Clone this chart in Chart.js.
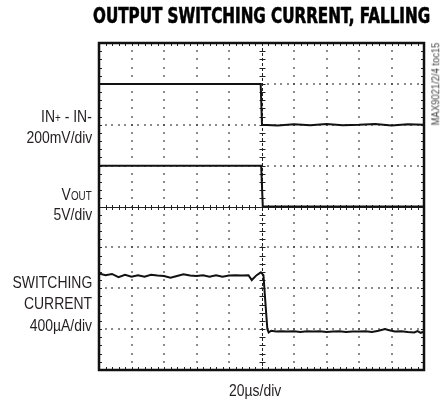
<!DOCTYPE html>
<html>
<head>
<meta charset="utf-8">
<script src="https://cdn.jsdelivr.net/npm/chart.js@4.4.1/dist/chart.umd.min.js"></script>
<style>
    body { margin: 0; background: #fff; }
    #wrap { position: relative; width: 447px; height: 404px; overflow: hidden; }
    #scope { position: absolute; left: 0; top: 0; }
    .txt {
        position: absolute;
        font-family: "Liberation Sans", Arial, sans-serif;
        color: #231f20;
        white-space: nowrap;
        line-height: 1;
    }
    /* the original uses a narrow face; squeeze Liberation Sans to match */
    .side { right: 355px; text-align: right; font-size: 17px; transform: scaleX(0.82); transform-origin: 100% 0; }
    .sub { font-size: 12px; }
    #title {
        left: 93px; top: 6px; font-size: 21px; font-weight: bold; transform-origin: 0 0;
        font-family: "DejaVu Sans Condensed", "Liberation Sans", sans-serif;
        color: #000; -webkit-text-stroke: 0.6px #000;
    }
    #timebase { left: 229px; top: 382px; font-size: 17px; transform: scaleX(0.82); transform-origin: 0 0; }
    #partno { left: 436px; top: 84px; font-size: 11.5px; color: #444; transform: translate(-50%, -50%) rotate(-90deg) scaleX(0.82); }
</style>
</head>
<body>
<div id="wrap">
    <canvas id="scope" width="447" height="404"></canvas>
    <div class="txt" id="title">OUTPUT SWITCHING CURRENT, FALLING</div>
    <div class="txt side" style="top:108px">IN<span class="sub">+</span> - IN-</div>
    <div class="txt side" style="top:129px">200mV/div</div>
    <div class="txt side" style="top:186px">V<span class="sub">OUT</span></div>
    <div class="txt side" style="top:206px">5V/div</div>
    <div class="txt side" style="top:274px">SWITCHING</div>
    <div class="txt side" style="top:295px">CURRENT</div>
    <div class="txt side" style="top:317px">400µA/div</div>
    <div class="txt" id="timebase">20µs/div</div>
    <div class="txt" id="partno">MAX9021/2/4 toc15</div>
</div>
<script>
// x in time divisions (20us/div), y in screen divisions from the bottom
const inX = [0, 4.975, 5.015, 5.5, 6.0, 6.5, 7.0, 7.5, 8.0, 8.5, 9.0, 9.5, 10];
const inY = [7.0, 7.0, 6.0, 5.98, 6.01, 5.99, 6.02, 5.99, 6.0, 6.02, 5.98, 6.01, 6.0];

const voutX = [0, 4.99, 5.04, 10];
const voutY = [5.0, 5.0, 4.0, 4.0];

const currX = [0, 0.2, 0.4, 0.6, 0.8, 1.0, 1.2, 1.4, 1.6, 1.8, 2.0, 2.2, 2.4, 2.6, 2.8,
    3.0, 3.2, 3.4, 3.6, 3.8, 4.0, 4.2, 4.4, 4.6, 4.7, 4.85, 4.98, 5.06, 5.12, 5.18, 5.22,
    5.3, 5.45, 5.6, 5.8, 6.0, 6.2, 6.4, 6.6, 6.8, 7.0, 7.2, 7.4, 7.6, 7.8, 8.0, 8.2, 8.4,
    8.6, 8.8, 8.9, 9.1, 9.3, 9.5, 9.7, 9.8, 9.9, 10];
const currY = [2.36, 2.32, 2.35, 2.27, 2.33, 2.28, 2.32, 2.28, 2.33, 2.31, 2.30, 2.26, 2.30, 2.34, 2.31,
    2.30, 2.32, 2.28, 2.32, 2.28, 2.31, 2.32, 2.31, 2.32, 2.20, 2.32, 2.39, 2.32, 1.65, 1.0, 0.92,
    0.96, 0.94, 0.95, 0.94, 0.95, 0.93, 0.95, 0.94, 0.95, 0.93, 0.94, 0.95, 0.93, 0.94, 0.94, 0.95, 0.93,
    0.96, 1.0, 0.98, 0.94, 0.95, 0.93, 0.92, 0.95, 0.91, 0.94];

const X_DIVS = 10;
const Y_DIVS = 8;

function toPoints(xs, ys) {
    return xs.map((x, i) => ({ x: x, y: ys[i] }));
}

// scope graticule: dotted division lines, ticked centre axes, ticked border
const graticule = {
    id: 'graticule',
    beforeDatasetsDraw(chart) {
        const ctx = chart.ctx;
        const xs = chart.scales.x;
        const ys = chart.scales.y;
        const a = chart.chartArea;
        const dot = (px, py) => ctx.fillRect(Math.round(px) - 0.75, Math.round(py) - 0.75, 1.5, 1.5);
        ctx.save();
        ctx.fillStyle = '#333';
        ctx.strokeStyle = '#222';

        for (let i = 1; i < X_DIVS; i++) {
            if (i === X_DIVS / 2) continue;
            const px = xs.getPixelForValue(i);
            for (let j = 0; j <= Y_DIVS * 5; j++) dot(px, ys.getPixelForValue(j / 5));
        }
        for (let i = 1; i < Y_DIVS; i++) {
            if (i === Y_DIVS / 2) continue;
            const py = ys.getPixelForValue(i);
            for (let j = 0; j <= X_DIVS * 5; j++) dot(xs.getPixelForValue(j / 5), py);
        }

        // centre horizontal axis
        const cy = Math.round(ys.getPixelForValue(Y_DIVS / 2)) + 0.5;
        ctx.lineWidth = 1;
        ctx.beginPath();
        ctx.moveTo(a.left, cy);
        ctx.lineTo(a.right, cy);
        for (let j = 0; j <= X_DIVS * 5; j++) {
            const px = Math.round(xs.getPixelForValue(j / 5)) + 0.5;
            ctx.moveTo(px, cy - 2.5);
            ctx.lineTo(px, cy + 2.5);
        }
        ctx.stroke();

        // centre vertical axis
        const cx = Math.round(xs.getPixelForValue(X_DIVS / 2)) + 0.5;
        ctx.beginPath();
        ctx.setLineDash([3, 2]);
        ctx.moveTo(cx, a.top);
        ctx.lineTo(cx, a.bottom);
        ctx.stroke();
        ctx.setLineDash([]);
        ctx.beginPath();
        for (let j = 0; j <= Y_DIVS * 5; j++) {
            const py = Math.round(ys.getPixelForValue(j / 5)) + 0.5;
            ctx.moveTo(cx - 3, py);
            ctx.lineTo(cx + 3, py);
        }
        ctx.stroke();

        // small ticks along the border
        ctx.beginPath();
        for (let j = 1; j < X_DIVS * 5; j++) {
            const px = Math.round(xs.getPixelForValue(j / 5)) + 0.5;
            ctx.moveTo(px, a.top);
            ctx.lineTo(px, a.top + 3);
            ctx.moveTo(px, a.bottom);
            ctx.lineTo(px, a.bottom - 3);
        }
        for (let j = 1; j < Y_DIVS * 5; j++) {
            const py = Math.round(ys.getPixelForValue(j / 5)) + 0.5;
            ctx.moveTo(a.left, py);
            ctx.lineTo(a.left + 3, py);
            ctx.moveTo(a.right, py);
            ctx.lineTo(a.right - 3, py);
        }
        ctx.stroke();
        ctx.restore();
    },
    afterDraw(chart) {
        const ctx = chart.ctx;
        const a = chart.chartArea;
        ctx.save();
        ctx.strokeStyle = '#111';
        ctx.lineWidth = 2.5;
        ctx.strokeRect(a.left, a.top, a.right - a.left, a.bottom - a.top);
        ctx.restore();
    }
};

const traceStyle = {
    borderColor: '#111',
    borderWidth: 2,
    pointRadius: 0,
    tension: 0,
    fill: false
};

new Chart(document.getElementById('scope'), {
    type: 'line',
    data: {
        datasets: [
            { ...traceStyle, label: 'IN+ - IN-', data: toPoints(inX, inY) },
            { ...traceStyle, label: 'VOUT', data: toPoints(voutX, voutY) },
            { ...traceStyle, label: 'Switching current', data: toPoints(currX, currY) }
        ]
    },
    options: {
        responsive: false,
        animation: false,
        devicePixelRatio: 1,
        layout: { padding: { left: 99, right: 23, top: 43, bottom: 34 } },
        scales: {
            x: { type: 'linear', min: 0, max: X_DIVS, display: false },
            y: { type: 'linear', min: 0, max: Y_DIVS, display: false }
        },
        plugins: {
            legend: { display: false },
            tooltip: { enabled: false }
        }
    },
    plugins: [graticule]
});

// squeeze the heavy title to the width it has in the original
const title = document.getElementById('title');
title.style.transform = 'scaleX(' + (337 / title.offsetWidth) + ')';
</script>
</body>
</html>
